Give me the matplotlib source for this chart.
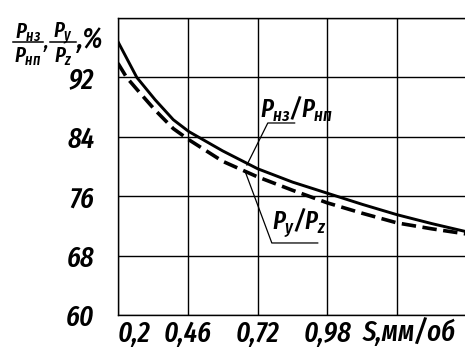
import matplotlib
matplotlib.use("Agg")
import matplotlib.pyplot as plt
from matplotlib.lines import Line2D

FONT = 'Fira Sans Extra Condensed'
plt.rcParams['font.family'] = [FONT, 'DejaVu Sans']
plt.rcParams['font.style'] = 'italic'
plt.rcParams['font.weight'] = 'medium'
plt.rcParams['mathtext.fontset'] = 'custom'
plt.rcParams['mathtext.it'] = FONT + ':italic:medium'
plt.rcParams['mathtext.rm'] = FONT + ':italic:medium'

# подача S, мм/об и Pнз/Pнп, %
s_nz = [0.2, 0.27, 0.338, 0.406, 0.464, 0.59, 0.72, 0.85, 0.98, 1.11, 1.24, 1.37, 1.5]
p_nz = [96.8, 92.0, 89.0, 86.3, 84.7, 82.1, 79.7, 77.9, 76.4, 74.9, 73.5, 72.3, 71.2]
# Py/Pz, %
s_yz = [0.2, 0.232, 0.282, 0.338, 0.406, 0.464, 0.59, 0.72, 0.85, 0.98, 1.11, 1.24, 1.37, 1.5]
p_yz = [93.9, 92.0, 89.9, 87.6, 85.1, 83.6, 80.7, 78.6, 76.8, 75.1, 73.7, 72.4, 71.6, 70.9]

xticks = [0.2, 0.46, 0.72, 0.98, 1.24]
xlabels = ["0,2", "0,46", "0,72", "0,98", ""]
yticks = [60, 68, 76, 84, 92, 100]
ylabels = ["60", "68", "76", "84", "92", ""]

fig = plt.figure(figsize=(4.65, 3.53), dpi=100)
ax = fig.add_axes([118/465, 1 - 315/353, 349/465, 297/353])

ax.plot(s_nz, p_nz, color='black', lw=2.1)
ax.plot(s_yz, p_yz, color='black', lw=2.6, dashes=(4, 1.8))

ax.set_xlim(0.2, 1.5)
ax.set_ylim(60, 100)
ax.set_xticks(xticks)
ax.set_xticklabels(xlabels, fontsize=21)
ax.set_yticks(yticks)
ax.set_yticklabels(ylabels, fontsize=21)
ax.get_xticklabels()[0].set_ha('left')
ax.tick_params(length=0, pad=3)
ax.tick_params(axis='y', pad=17)
ax.grid(True, color='black', lw=1.0)
for sp in ax.spines.values():
    sp.set_linewidth(1.0)
ax.spines['right'].set_visible(False)

# обозначение оси X
ax.text(1.285, -0.011, "S,мм/об", fontsize=21, ha='center', va='top',
        transform=ax.get_xaxis_transform())

# подписи кривых с выносками
ax.plot([0.858, 0.758, 0.680], [85.86, 85.86, 80.2], color='black', lw=0.9)
ax.text(0.728, 86.6, r'$P_{нз}/P_{нп}$', fontsize=19, ha='left', va='baseline')
ax.plot([0.944, 0.773, 0.676], [69.7, 69.7, 79.1], color='black', lw=0.9)
ax.text(0.775, 71.6, r'$P_{y}/P_{z}$', fontsize=19, ha='left', va='baseline')

# подпись оси Y: две дроби
def frac(xc, x0, x1, num, den):
    fig.text(xc/465, 1 - 38/353, num, fontsize=16, ha='center', va='baseline')
    fig.text(xc/465, 1 - 62/353, den, fontsize=16, ha='center', va='baseline')
    fig.add_artist(Line2D([x0/465, x1/465], [1 - 42/353, 1 - 42/353],
                          color='black', lw=1.1, transform=fig.transFigure))

frac(28, 13, 43, r'$P_{нз}$', r'$P_{нп}$')
frac(63, 50, 76, r'$P_{y}$', r'$P_{z}$')
fig.text(46/465, 1 - 48/353, ',', fontsize=16, ha='center', va='baseline')
fig.text(77/465, 1 - 48/353, ',%', fontsize=21, ha='left', va='baseline')

fig.savefig("out.png", dpi=100)
